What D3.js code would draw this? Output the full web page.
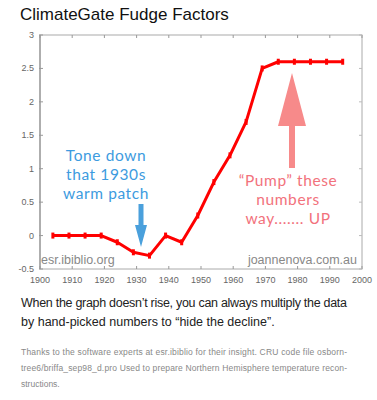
<!DOCTYPE html>
<html><head><meta charset="utf-8">
<script src="https://cdn.jsdelivr.net/npm/d3@7"></script>
<style>body{margin:0;background:#fff}svg{display:block}</style>
</head><body>
<script>
const years = [1904,1909,1914,1919,1924,1929,1934,1939,1944,1949,1954,1959,1964,1969,1974,1979,1984,1989,1994];
const values = [0,0,0,0,-0.1,-0.25,-0.3,0,-0.1,0.3,0.8,1.2,1.7,2.5,2.6,2.6,2.6,2.6,2.6];
const xTicks = [1900,1910,1920,1930,1940,1950,1960,1970,1980,1990,2000];
const yTicks = [-0.5,0,0.5,1,1.5,2,2.5,3];
const title = "ClimateGate Fudge Factors";
const caption = ["When the graph doesn\u2019t rise, you can always multiply the data", "by hand-picked numbers to \u201chide the decline\u201d."];
const footnote = ["Thanks to the software experts at esr.ibiblio for their insight.  CRU code file osborn-", "tree6/briffa_sep98_d.pro  Used to prepare Northern Hemisphere temperature recon-", "structions."];
const blueNote = ["Tone down", "that 1930s", "warm patch"];
const pinkNote = ["\u201cPump\u201d these", "numbers", "way....... UP"];

const W = 377, H = 400;
const svg = d3.select("body").append("svg").attr("width", W).attr("height", H);
const x = d3.scaleLinear().domain([1900, 2000]).range([40, 362]);
const y = d3.scaleLinear().domain([-0.5, 3]).range([269, 35]);
const font = "'Liberation Sans', Arial, sans-serif";

svg.append("text").attr("x", 20).attr("y", 20).attr("font-family", font).attr("font-size", 17).attr("fill", "#111").text(title);

// frame
svg.append("rect").attr("x", x(1900)).attr("y", y(3)).attr("width", x(2000) - x(1900)).attr("height", y(-0.5) - y(3))
  .attr("fill", "none").attr("stroke", "#aaa").attr("stroke-width", 1);
svg.append("line").attr("x1", x(1900)).attr("x2", x(1900)).attr("y1", y(3)).attr("y2", y(-0.5)).attr("stroke", "#888");

// ticks
const g = svg.append("g");
g.selectAll(".xb").data(xTicks).join("line").attr("x1", d => x(d)).attr("x2", d => x(d)).attr("y1", y(-0.5)).attr("y2", y(-0.5) - 3).attr("stroke", "#999");
g.selectAll(".xt").data(xTicks).join("line").attr("x1", d => x(d)).attr("x2", d => x(d)).attr("y1", y(3)).attr("y2", y(3) + 3).attr("stroke", "#999");
g.selectAll(".yl").data(yTicks).join("line").attr("x1", x(1900) - 1).attr("x2", x(1900) + 3).attr("y1", d => y(d)).attr("y2", d => y(d)).attr("stroke", "#999");
g.selectAll(".yr").data(yTicks).join("line").attr("x1", x(2000)).attr("x2", x(2000) - 3).attr("y1", d => y(d)).attr("y2", d => y(d)).attr("stroke", "#bbb");

g.selectAll(".xlab").data(xTicks).join("text").attr("x", d => x(d)).attr("y", 283).attr("text-anchor", "middle")
  .attr("font-family", font).attr("font-size", 9).attr("fill", "#666").text(d => d);
g.selectAll(".ylab").data(yTicks).join("text").attr("x", 34).attr("y", d => y(d) + 3).attr("text-anchor", "end")
  .attr("font-family", font).attr("font-size", 9).attr("fill", "#666").text(d => d);

// watermarks
svg.append("text").attr("x", 41).attr("y", 264).attr("font-family", font).attr("font-size", 12.5).attr("fill", "#888").text("esr.ibiblio.org");
svg.append("text").attr("x", 357).attr("y", 264).attr("text-anchor", "end").attr("font-family", font).attr("font-size", 12.5).attr("fill", "#888").text("joannenova.com.au");

// line
const line = d3.line().x((d, i) => x(years[i])).y(d => y(d));
svg.append("path").datum(values).attr("d", line).attr("fill", "none").attr("stroke", "#ff0000").attr("stroke-width", 3).attr("stroke-linejoin", "round");
svg.selectAll(".mk").data(values).join("rect").attr("x", (d, i) => x(years[i]) - 1.5).attr("y", d => y(d) - 3)
  .attr("width", 3).attr("height", 6).attr("fill", "#ff0000");

// blue annotation
const hand = "Lato, 'Noto Sans', sans-serif";
svg.selectAll(".bn").data(blueNote).join("text").attr("x", 106).attr("y", (d, i) => 161 + i * 19).attr("text-anchor", "middle")
  .attr("font-family", hand).attr("font-size", 15.5).attr("letter-spacing", 0.6).attr("fill", "#3d9be0").text(d => d);
function arrow(cx, yTop, yHeadBase, yTip, shaftW, headW, color) {
  const p = d3.path();
  p.moveTo(cx - shaftW / 2, yTop); p.lineTo(cx + shaftW / 2, yTop);
  p.lineTo(cx + shaftW / 2, yHeadBase); p.lineTo(cx + headW / 2, yHeadBase);
  p.lineTo(cx, yTip); p.lineTo(cx - headW / 2, yHeadBase);
  p.lineTo(cx - shaftW / 2, yHeadBase); p.closePath();
  svg.append("path").attr("d", p.toString()).attr("fill", color);
}
arrow(141, 204, 225, 247, 5, 12, "#4aa0dc");
// pink arrow (pointing up)
arrow(292, 168, 126, 73, 6, 28, "#f78a8a");
svg.selectAll(".pn").data(pinkNote).join("text").attr("x", 288).attr("y", (d, i) => 186 + i * 19).attr("text-anchor", "middle")
  .attr("font-family", hand).attr("font-size", 15.5).attr("letter-spacing", 0.6).attr("fill", "#f2727c").text(d => d);

// caption
svg.append("text").attr("x", 21).attr("y", 307).attr("font-family", font).attr("font-size", 12.5).attr("fill", "#222")
  .attr("textLength", 326).attr("lengthAdjust", "spacing").text(caption[0]);
svg.append("text").attr("x", 21).attr("y", 326).attr("font-family", font).attr("font-size", 12.5).attr("fill", "#222").text(caption[1]);

// footnote
footnote.forEach((t, i) => {
  const el = svg.append("text").attr("x", 21).attr("y", 355 + i * 16).attr("font-family", font).attr("font-size", 8.5).attr("fill", "#888").text(t);
  if (i < 2) el.attr("textLength", 326).attr("lengthAdjust", "spacing");
});
</script>
</body></html>
